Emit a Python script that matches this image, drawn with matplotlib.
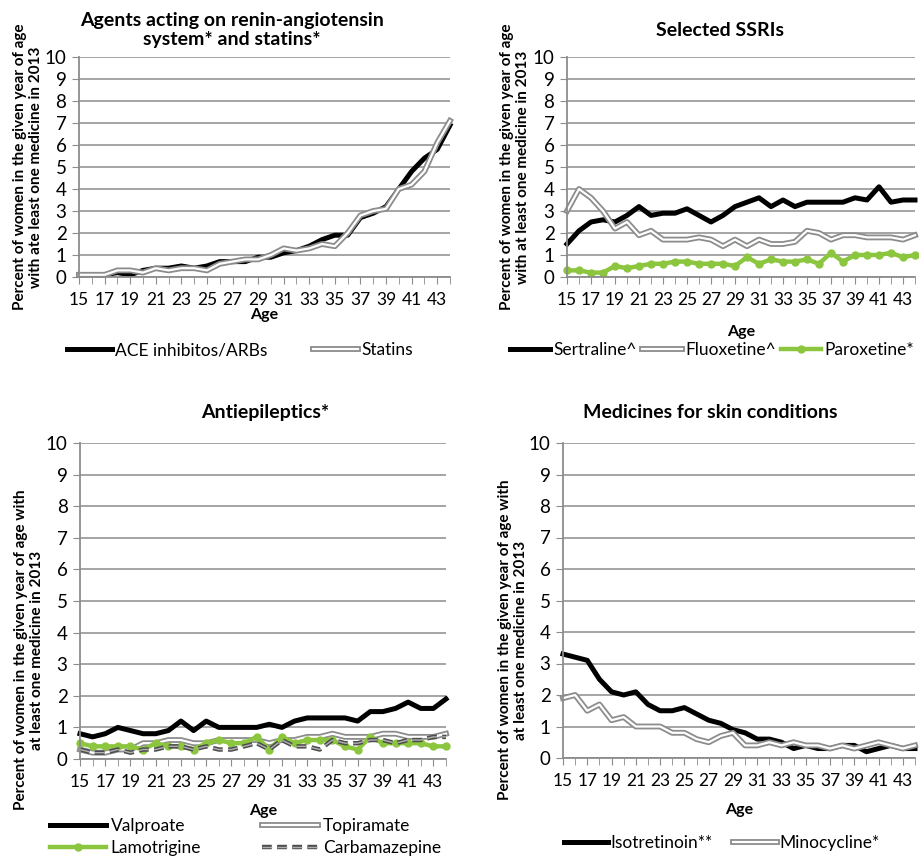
import matplotlib
matplotlib.use("Agg")
import matplotlib.pyplot as plt
import matplotlib.patheffects as pe
import numpy as np

plt.rcParams['font.family'] = ['Lato', 'DejaVu Sans']

ages = list(range(15, 45))
tick_ages = list(range(15, 45, 2))

# panel 1
ace = [0.1, 0.1, 0.1, 0.2, 0.1, 0.3, 0.4, 0.4, 0.5, 0.4, 0.5, 0.7, 0.7, 0.7, 0.9,
       0.9, 1.1, 1.2, 1.4, 1.7, 1.9, 1.9, 2.7, 2.9, 3.2, 4.0, 4.8, 5.4, 5.8, 6.9]
statins = [0.1, 0.1, 0.1, 0.3, 0.3, 0.2, 0.4, 0.3, 0.4, 0.4, 0.3, 0.6, 0.7, 0.8, 0.8,
           1.0, 1.3, 1.2, 1.3, 1.5, 1.4, 2.0, 2.8, 3.0, 3.1, 4.0, 4.2, 4.8, 6.1, 7.1]

# panel 2
sertraline = [1.5, 2.1, 2.5, 2.6, 2.5, 2.8, 3.2, 2.8, 2.9, 2.9, 3.1, 2.8, 2.5, 2.8, 3.2,
              3.4, 3.6, 3.2, 3.5, 3.2, 3.4, 3.4, 3.4, 3.4, 3.6, 3.5, 4.1, 3.4, 3.5, 3.5]
fluoxetine = [3.0, 4.0, 3.6, 3.0, 2.2, 2.5, 1.9, 2.1, 1.7, 1.7, 1.7, 1.8, 1.7, 1.4, 1.7,
              1.4, 1.7, 1.5, 1.5, 1.6, 2.1, 2.0, 1.7, 1.9, 1.9, 1.8, 1.8, 1.8, 1.7, 1.9]
paroxetine = [0.3, 0.3, 0.2, 0.2, 0.5, 0.4, 0.5, 0.6, 0.6, 0.7, 0.7, 0.6, 0.6, 0.6, 0.5,
              0.9, 0.6, 0.8, 0.7, 0.7, 0.8, 0.6, 1.1, 0.7, 1.0, 1.0, 1.0, 1.1, 0.9, 1.0]

# panel 3
valproate = [0.8, 0.7, 0.8, 1.0, 0.9, 0.8, 0.8, 0.9, 1.2, 0.9, 1.2, 1.0, 1.0, 1.0, 1.0,
             1.1, 1.0, 1.2, 1.3, 1.3, 1.3, 1.3, 1.2, 1.5, 1.5, 1.6, 1.8, 1.6, 1.6, 1.9]
topiramate = [0.3, 0.2, 0.2, 0.3, 0.3, 0.5, 0.5, 0.6, 0.6, 0.5, 0.5, 0.6, 0.6, 0.6, 0.6,
              0.5, 0.6, 0.6, 0.7, 0.7, 0.8, 0.7, 0.7, 0.7, 0.8, 0.8, 0.7, 0.7, 0.7, 0.8]
lamotrigine = [0.5, 0.4, 0.4, 0.4, 0.4, 0.3, 0.5, 0.4, 0.4, 0.3, 0.5, 0.6, 0.5, 0.5, 0.7,
               0.3, 0.7, 0.5, 0.6, 0.6, 0.6, 0.4, 0.3, 0.7, 0.5, 0.5, 0.5, 0.5, 0.4, 0.4]
carbamazepine = [0.3, 0.2, 0.2, 0.3, 0.2, 0.3, 0.3, 0.4, 0.4, 0.3, 0.4, 0.3, 0.3, 0.4, 0.5,
                 0.3, 0.6, 0.4, 0.4, 0.3, 0.6, 0.5, 0.5, 0.6, 0.6, 0.5, 0.6, 0.6, 0.7, 0.7]

# panel 4
isotretinoin = [3.3, 3.2, 3.1, 2.5, 2.1, 2.0, 2.1, 1.7, 1.5, 1.5, 1.6, 1.4, 1.2, 1.1, 0.9,
                0.8, 0.6, 0.6, 0.5, 0.3, 0.4, 0.3, 0.3, 0.4, 0.4, 0.2, 0.3, 0.4, 0.3, 0.3]
minocycline = [1.9, 2.0, 1.5, 1.7, 1.2, 1.3, 1.0, 1.0, 1.0, 0.8, 0.8, 0.6, 0.5, 0.7, 0.8,
               0.4, 0.4, 0.5, 0.4, 0.5, 0.4, 0.4, 0.3, 0.4, 0.3, 0.4, 0.5, 0.4, 0.3, 0.4]

W, H = 919, 861
fig = plt.figure(figsize=(W / 100, H / 100), dpi=100)

GREEN = '#8cc63f'
GRID = '#8c8c8c'
double = [pe.Stroke(linewidth=4.2, foreground='#8c8c8c'),
          pe.Stroke(linewidth=1.6, foreground='white')]
dashed_fx = [pe.Stroke(linewidth=3.2, foreground='#4d4d4d'),
             pe.Stroke(linewidth=1.0, foreground='#b0b0b0')]


def make_ax(left, right, top, bottom):
    ax = fig.add_axes([left / W, 1 - bottom / H, (right - left) / W, (bottom - top) / H])
    ax.set_xlim(15, 44)
    ax.set_ylim(0, 10)
    ax.set_yticks(range(0, 11))
    ax.set_xticks(ages, minor=True)
    ax.set_xticks(tick_ages)
    ax.grid(axis='y', color=GRID, lw=1.1)
    ax.set_axisbelow(True)
    for s in ['top', 'right']:
        ax.spines[s].set_visible(False)
    for s in ['left', 'bottom']:
        ax.spines[s].set_color(GRID)
        ax.spines[s].set_linewidth(1.3)
    ax.tick_params(axis='y', length=5, color=GRID, labelsize=13.5, pad=4)
    ax.tick_params(axis='x', which='both', length=5, color=GRID, labelsize=12.5, pad=6)
    return ax


def ylab(x, y, text):
    fig.text(x / W, 1 - y / H, text, rotation=90, ha='center', va='center',
             fontsize=11, fontweight='bold', linespacing=1.25)


# top left
ax1 = make_ax(79, 450, 57, 277)
l1, = ax1.plot(ages, ace, color='black', lw=3.6, clip_on=False)
l2, = ax1.plot(ages, statins, color='#8c8c8c', lw=4.2, path_effects=double, clip_on=False)
fig.text(232 / W, 1 - 30 / H, "Agents acting on renin-angiotensin\nsystem* and statins*",
         ha='center', va='center', fontsize=14, fontweight='bold', linespacing=1.15)
ax1.set_xlabel("Age", fontsize=11.5, fontweight='bold', labelpad=0)
ylab(28, 167, "Percent of women in the given year of age\nwith ate least one medicine in 2013")
fig.legend([l1, l2], ["ACE inhibitos/ARBs", "Statins"], loc='center',
           bbox_to_anchor=(240 / W, 1 - 350 / H), ncol=2, frameon=False, fontsize=12.5,
           handlelength=2.6, handletextpad=0.2, columnspacing=2.6)

# top right
ax2 = make_ax(567, 915, 57, 277)
s1, = ax2.plot(ages, sertraline, color='black', lw=3.6, clip_on=False)
s2, = ax2.plot(ages, fluoxetine, color='#8c8c8c', lw=4.2, path_effects=double, clip_on=False)
s3, = ax2.plot(ages, paroxetine, color=GREEN, lw=3.2, marker='o', ms=5, clip_on=False)
fig.text(720 / W, 1 - 30 / H, "Selected SSRIs", ha='center', va='center',
         fontsize=14, fontweight='bold')
ax2.set_xlabel("Age", fontsize=11.5, fontweight='bold', labelpad=12)
ylab(515, 167, "Percent of women in the given year of age\nwith at least one medicine in 2013")
fig.legend([s1, s2, s3], ["Sertraline^", "Fluoxetine^", "Paroxetine*"], loc='center',
           bbox_to_anchor=(712 / W, 1 - 350 / H), ncol=3, frameon=False, fontsize=12.5,
           handlelength=2.3, handletextpad=0.2, columnspacing=0.3)

# bottom left
ax3 = make_ax(80, 446, 443, 759)
v1, = ax3.plot(ages, valproate, color='black', lw=3.6, clip_on=False)
v2, = ax3.plot(ages, topiramate, color='#8c8c8c', lw=4.2, path_effects=double, clip_on=False)
v3, = ax3.plot(ages, lamotrigine, color=GREEN, lw=3.2, marker='o', ms=5, clip_on=False)
v4, = ax3.plot(ages, carbamazepine, color='#4d4d4d', lw=3.2, ls=(0, (2.2, 1.2)),
               path_effects=dashed_fx, clip_on=False)
fig.text(265 / W, 1 - 412 / H, "Antiepileptics*", ha='center', va='center',
         fontsize=14, fontweight='bold')
ax3.set_xlabel("Age", fontsize=11.5, fontweight='bold', labelpad=10)
ylab(29, 650, "Percent of women in the given year of age with\nat least one medicine in 2013")
fig.legend([v1, v3, v2, v4], ["Valproate", "Lamotrigine", "Topiramate", "Carbamazepine"],
           loc='upper left', bbox_to_anchor=(50 / W, 1 - 818 / H), ncol=2, frameon=False,
           fontsize=12.5, handlelength=3.2, handletextpad=0.3, columnspacing=3.5,
           labelspacing=0.35, borderpad=0, borderaxespad=0)

# bottom right
ax4 = make_ax(563, 915, 443, 758)
i1, = ax4.plot(ages, isotretinoin, color='black', lw=3.6, clip_on=False)
i2, = ax4.plot(ages, minocycline, color='#8c8c8c', lw=4.2, path_effects=double, clip_on=False)
fig.text(710 / W, 1 - 412 / H, "Medicines for skin conditions", ha='center', va='center',
         fontsize=14, fontweight='bold')
ax4.set_xlabel("Age", fontsize=11.5, fontweight='bold', labelpad=10)
ylab(513, 640, "Percent of women in the given year of age with\nat least one medicine in 2013")
fig.legend([i1, i2], ["Isotretinoin**", "Minocycline*"], loc='center',
           bbox_to_anchor=(722 / W, 1 - 843 / H), ncol=2, frameon=False, fontsize=12.5,
           handlelength=2.5, handletextpad=0.15, columnspacing=1.2)

fig.savefig("out.png", dpi=100)
